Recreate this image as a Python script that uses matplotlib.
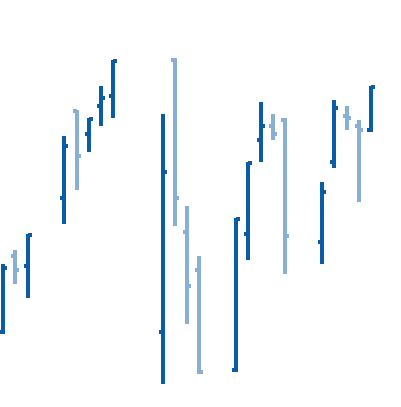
import pandas as pd
import matplotlib
matplotlib.use("Agg")
import matplotlib.pyplot as plt
import matplotlib.dates as mdates

# trading days (gaps = weekends and a holiday)
dates = pd.to_datetime([
    "2017-01-04", "2017-01-05", "2017-01-06",
    "2017-01-09", "2017-01-10", "2017-01-11", "2017-01-12", "2017-01-13",
    "2017-01-17", "2017-01-18", "2017-01-19", "2017-01-20",
    "2017-01-23", "2017-01-24", "2017-01-25", "2017-01-26", "2017-01-27",
    "2017-01-30", "2017-01-31", "2017-02-01", "2017-02-02", "2017-02-03",
])
open_ = [75, 151, 141, 209, 296, 273, 301, 311, 75, 347, 175, 137,
         37, 173, 267, 281, 287, 165, 245, 291, 281, 277]
high = [143, 157, 173, 271, 297, 289, 321, 347, 293, 349, 201, 151,
        189, 245, 305, 293, 289, 225, 307, 301, 287, 321]
low = [73, 123, 109, 183, 217, 255, 281, 289, 23, 181, 83, 33,
       35, 147, 245, 267, 133, 143, 239, 277, 205, 275]
close = [139, 137, 172, 261, 251, 288, 309, 346, 235, 209, 121, 35,
         188, 244, 281, 273, 171, 215, 299, 289, 277, 320]

up_color = "#0a5ca6"
down_color = "#88afd4"

fig = plt.figure(figsize=(4.02, 4.07), dpi=100)
ax = fig.add_axes([0, 0, 1, 1])

x = mdates.date2num(dates)
tick = 0.326  # tick length in days
lw = 2.88

for xi, o, h, l, c in zip(x, open_, high, low, close):
    col = up_color if c >= o else down_color
    ax.vlines(xi, l, h, color=col, linewidth=lw)
    ax.hlines(o, xi - tick, xi, color=col, linewidth=lw)
    ax.hlines(c, xi, xi + tick, color=col, linewidth=lw)

ax.set_xlim(x[0] - 0.2445, x[0] + 32.52)
ax.set_ylim(0, 407)
ax.axis("off")

plt.savefig("out.png", dpi=100)
